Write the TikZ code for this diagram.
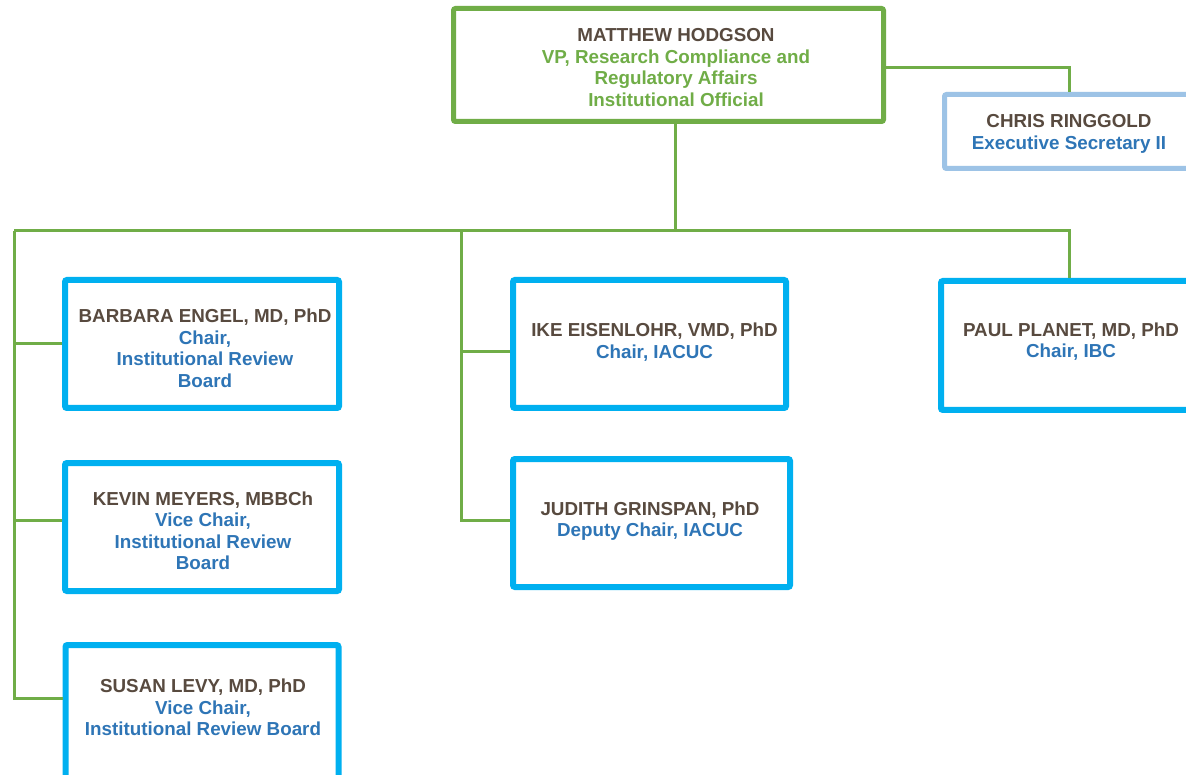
\documentclass[tikz,border=0pt]{standalone}
\usepackage{fontspec}
\setmainfont{Liberation Sans}
\definecolor{lgreen}{HTML}{70AD47}
\definecolor{nbrown}{HTML}{584A3F}
\definecolor{tblue}{HTML}{2E75B6}
\definecolor{cyanbox}{HTML}{00B0F0}
\definecolor{paleblue}{HTML}{9DC3E6}
\newcommand\pname[1]{\textcolor{nbrown}{#1}}
\begin{document}
\begin{tikzpicture}[x=1pt,y=-1pt,
  base/.style={fill=white, rounded corners=2pt, inner sep=0pt},
  cbox/.style={base, draw=cyanbox, line width=6pt},
  gbox/.style={base, draw=lgreen, line width=5pt},
  pbox/.style={base, draw=paleblue, line width=5pt},
  txt/.style={align=center, inner sep=0pt, text=tblue,
    font=\fontsize{18.8}{21.5}\selectfont\bfseries},
  conn/.style={draw=lgreen, line width=3pt}
]
\useasboundingbox (0,0) rectangle (1186,775);
\clip (0,0) rectangle (1186,775);
\fill[white] (0,0) rectangle (1186,775);

% boxes
\node[gbox, minimum width=430pt, minimum height=113pt] (mh) at (668.5,65) {};
\node[pbox, minimum width=249pt, minimum height=74pt] (cr) at (1069,131.5) {};
\node[cbox, minimum width=274pt, minimum height=128pt] (be) at (202,344) {};
\node[cbox, minimum width=274pt, minimum height=128pt] (km) at (202,527) {};
\node[cbox, minimum width=273pt, minimum height=134pt] (sl) at (202,712) {};
\node[cbox, minimum width=273pt, minimum height=128pt] (ie) at (649.5,344) {};
\node[cbox, minimum width=277pt, minimum height=128pt] (jg) at (651.5,523) {};
\node[cbox, minimum width=260pt, minimum height=129pt] (pp) at (1071,345.5) {};

% texts
\node[txt, text=lgreen] (mht) at ([shift={(7.5,2.5)}]mh.center)
  {\pname{MATTHEW HODGSON}\\VP, Research Compliance and\\Regulatory Affairs\\Institutional Official};
\node[txt] (crt) at ([shift={(0,2.5)}]cr.center)
  {\pname{CHRIS RINGGOLD}\\Executive Secretary II};
\node[txt] (bet) at ([shift={(3,4.5)}]be.center)
  {\pname{BARBARA ENGEL, MD, PhD}\\Chair,\\Institutional Review\\Board};
\node[txt] (kmt) at ([shift={(1,4)}]km.center)
  {\pname{KEVIN MEYERS, MBBCh}\\Vice Chair,\\Institutional Review\\Board};
\node[txt] (slt) at ([shift={(1,-4.5)}]sl.center)
  {\pname{SUSAN LEVY, MD, PhD}\\Vice Chair,\\Institutional Review Board};
\node[txt] (iet) at ([shift={(5,-2)}]ie.center)
  {\pname{IKE EISENLOHR, VMD, PhD}\\Chair, IACUC};
\node[txt] (jgt) at ([shift={(-1.5,-2)}]jg.center)
  {\pname{JUDITH GRINSPAN, PhD}\\Deputy Chair, IACUC};
\node[txt] (ppt) at ([shift={(0,-4)}]pp.center)
  {\pname{PAUL PLANET, MD, PhD}\\Chair, IBC};

% bus coordinates
\coordinate (bmid) at (675,231);
\coordinate (bleft) at (14,231);
\coordinate (bright) at (1069,231);
\coordinate (bcen) at (461,231);
\coordinate (lbot) at (14,698);
\coordinate (cbot) at (461,520);

% connectors
\draw[conn] ([yshift=-3pt]mh.east) -| (cr.north);
\draw[conn] (mh.south -| bmid) -- (bmid);
\draw[conn] (bleft) -- (bright) -- (bright |- pp.north);
\draw[conn] (bleft) -- (lbot) -- ([yshift=14pt]sl.west);
\draw[conn] (be.west) -- (be.west -| bleft);
\draw[conn] ([yshift=7pt]km.west) -- ([yshift=7pt]km.west -| bleft);
\draw[conn] (bcen) -- (cbot) -- ([yshift=3pt]jg.west);
\draw[conn] ([yshift=-8pt]ie.west) -- ([yshift=-8pt]ie.west -| bcen);
\end{tikzpicture}
\end{document}
